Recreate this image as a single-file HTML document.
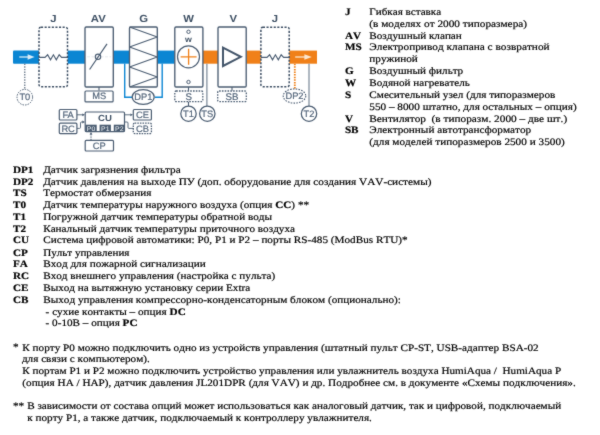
<!DOCTYPE html>
<html lang="ru"><head><meta charset="utf-8"><title>Схема</title>
<style>
html,body{margin:0;padding:0;background:#fff}
body{width:600px;height:435px;position:relative;overflow:hidden}
.t{position:absolute;left:0;font-family:"Liberation Serif",serif;font-size:9.9px;line-height:12px;white-space:pre;color:#000;transform-origin:0 50%;-webkit-text-stroke:0.19px #000;font-kerning:none;text-rendering:geometricPrecision}
#txt{position:absolute;left:0;top:0;width:600px;height:435px;filter:url(#soft)}
svg{position:absolute;left:0;top:0;filter:url(#soft)}
b.k{font-kerning:none}
svg text{font-family:"Liberation Sans",sans-serif;text-rendering:geometricPrecision}
</style></head><body>
<svg width="0" height="0" style="position:absolute;filter:none"><defs><filter id="soft" x="0" y="0" width="100%" height="100%" color-interpolation-filters="sRGB"><feConvolveMatrix order="3" kernelMatrix="0.02 0.07 0.02 0.07 0.64 0.07 0.02 0.07 0.02" edgeMode="duplicate" preserveAlpha="false"/></filter></defs></svg>
<svg width="330" height="160" viewBox="0 0 330 160">
<g fill="none" stroke="#4b5d72" stroke-width="1.2">
<!-- ducts -->
<g stroke="none">
<path d="M14,50.6 H39 V63.7 H14 Q13,63.7 13,62.7 V51.6 Q13,50.6 14,50.6Z" fill="#0b86d3"/>
<rect x="67.7" y="50.6" width="17.3" height="13.1" fill="#0b86d3"/>
<rect x="113" y="50.6" width="16.5" height="13.1" fill="#0b86d3"/>
<rect x="157" y="50.6" width="17.8" height="13.1" fill="#0b86d3"/>
<rect x="203" y="50.6" width="15" height="13.1" fill="#f08019"/>
<rect x="246.4" y="50.6" width="14.4" height="13.1" fill="#f08019"/>
<rect x="289.3" y="50.6" width="27.7" height="13.1" fill="#f08019"/>
</g>
<!-- arrows -->
<g stroke="#d9ecf7" stroke-width="1.3"><path d="M19.3,57 H29"/><path d="M27.6,54.2 L34.6,57 L27.6,59.8Z" fill="#d9ecf7" stroke="none"/></g>
<g stroke="#fbe6cf" stroke-width="1.3"><path d="M295.2,57 H305"/><path d="M304.4,54.2 L311.8,57 L304.4,59.8Z" fill="#fbe6cf" stroke="none"/></g>
<!-- blue DP1 lines -->
<path d="M124.7,63.5 V97.3 H132.4 M162.2,63.5 V97.3 H155" stroke="#0b86d3" stroke-width="1.4"/>
<!-- J left -->
<rect x="39" y="27.2" width="28.5" height="59.6" rx="2" stroke-dasharray="2.1 1.5" stroke-width="1.5" stroke="#3c4e63"/>
<path d="M39,57.3 H45 L47.6,54.8 L50.5,59.9 L53.4,54.8 L56.3,59.9 L59.2,54.8 L61.6,57.3 H67.5" stroke-width="1.15"/>
<!-- T0 -->
<path d="M24.8,63.7 V89" stroke-dasharray="1.4 1.2" stroke-width="1.1"/>
<circle cx="24.8" cy="97.2" r="7.8" stroke-dasharray="1.5 1.1" stroke-width="1"/>
<!-- AV -->
<rect x="85" y="27" width="28.3" height="60" rx="1.2" fill="#fff" stroke-width="1.35"/>
<path d="M87,56.8 H111" stroke="#dfe5ea" stroke-width="0.8" stroke-dasharray="3 1.5"/>
<circle cx="98" cy="56.8" r="2.7" stroke-width="1.1"/>
<path d="M89.6,69.5 L107,43.8" stroke-width="1.2"/>
<path d="M99,87 V90.6" stroke-width="1.1"/>
<rect x="85" y="91" width="28.1" height="10.9" rx="1" stroke-width="1.2"/>
<!-- G -->
<rect x="129.5" y="27" width="27.8" height="60" rx="1.2" fill="#fff" stroke-width="1.35"/>
<path d="M129.5,27 L157.3,37 L129.5,47 L157.3,57 L129.5,67 L157.3,77 L129.5,87" stroke-width="1.1" stroke-linejoin="bevel"/>
<ellipse cx="143.2" cy="97" rx="11" ry="7.3" stroke-width="1.25" fill="#fff"/>
<!-- W -->
<rect x="174.8" y="27" width="28.1" height="60" rx="1.2" fill="#fff" stroke-width="1.35"/>
<circle cx="188.5" cy="56.8" r="11" stroke-width="1.2"/>
<path d="M180.6,56.8 H196.6 M188.6,48.8 V64.8" stroke="#f08019" stroke-width="1.3"/>
<circle cx="188.5" cy="31.8" r="1.7" stroke-width="1"/>
<circle cx="188.5" cy="82" r="1.7" stroke-width="1"/>
<path d="M188.5,87 V90.7 M188.5,101.8 V106" stroke-width="1.1"/>
<rect x="174.8" y="91" width="28" height="10.7" rx="1.4" stroke-dasharray="1.6 1.2" stroke-width="1.3" stroke="#4d5f74"/>
<circle cx="188.5" cy="113.7" r="7.7" stroke-width="1.25"/>
<!-- TS -->
<path d="M206.9,63.7 V106" stroke-width="1.1" stroke="#6a7a8c"/>
<circle cx="207.3" cy="113.7" r="7.7" stroke-width="1.25"/>
<!-- V -->
<rect x="218" y="27" width="28.2" height="60" rx="1.2" fill="#fff" stroke-width="1.35"/>
<path d="M223,47.6 V66 L240.8,56.8Z" stroke-width="2" stroke="#44566b" stroke-linejoin="miter"/>
<path d="M232,87 V90.7" stroke-width="1.1"/>
<rect x="217.7" y="91" width="28.6" height="10.7" rx="1.4" stroke-dasharray="1.6 1.2" stroke-width="1.3" stroke="#4d5f74"/>
<!-- J right -->
<rect x="260.9" y="27.2" width="28.3" height="59.6" rx="2" stroke-dasharray="2.1 1.5" stroke-width="1.5" stroke="#3c4e63"/>
<path d="M261,57.3 H267 L269.6,54.8 L272.5,59.9 L275.4,54.8 L278.3,59.9 L281.2,54.8 L283.6,57.3 H289.3" stroke-width="1.15"/>
<!-- DP2 / T2 -->
<path d="M294.8,63.7 V89" stroke="#f08019" stroke-width="1.8" stroke-dasharray="1.5 1.1"/>
<ellipse cx="294.5" cy="96" rx="11.3" ry="7.1" stroke-dasharray="1.6 1.2" stroke-width="1.1"/>
<path d="M309,63.7 V106" stroke-width="1.1" stroke="#6a7a8c"/>
<circle cx="309" cy="113.7" r="7.7" stroke-width="1.25"/>
<!-- CU block -->
<rect x="85.2" y="112" width="39.3" height="19.6" rx="1" stroke-width="1.2"/>
<g stroke="none" fill="#4a5c71">
<rect x="85.4" y="124.7" width="11.3" height="6.9"/>
<rect x="99.6" y="124.7" width="11.3" height="6.9"/>
<rect x="113.8" y="124.7" width="10.9" height="6.9"/>
</g>
<rect x="59.3" y="109.5" width="17.6" height="10.5" rx="1" stroke-width="1.2"/>
<rect x="59.3" y="123.2" width="17.6" height="10.4" rx="1" stroke-width="1.2"/>
<rect x="133.3" y="109.5" width="18.1" height="10.5" rx="1" stroke-width="1.2"/>
<rect x="133.3" y="123.1" width="18.1" height="10.5" rx="1.4" stroke-dasharray="1.55 1.05" stroke-width="1.3" stroke="#4d5f74"/>
<rect x="85.2" y="140.4" width="28.3" height="10.6" rx="1" stroke-width="1.2"/>
<!-- connectors -->
<path d="M77,114.8 H83" stroke-width="0.9"/><path d="M82.3,113.4 L85,114.8 L82.3,116.2Z" fill="#4b5d72" stroke="none"/>
<path d="M77,128.4 H79.5 Q80.5,128.4 80.5,127.4 V123 Q80.5,122 81.5,122 H83" stroke-width="0.9"/><path d="M82.3,120.6 L85,122 L82.3,123.4Z" fill="#4b5d72" stroke="none"/>
<path d="M124.5,114.8 H130.5" stroke-width="0.9"/><path d="M130.3,113.4 L133,114.8 L130.3,116.2Z" fill="#4b5d72" stroke="none"/>
<path d="M124.5,122 H127 Q128,122 128,123 V127.4 Q128,128.4 129,128.4 H133" stroke-width="0.9"/>
<path d="M91,134 V140.4" stroke-width="1" stroke-dasharray="1.4 1"/><path d="M89.6,134.6 L91,132 L92.4,134.6Z" fill="#4b5d72" stroke="none"/>
</g>
<!-- labels -->
<g fill="#3f5165" font-weight="bold" font-size="10.3px" text-anchor="middle">
<text transform="translate(53.3,22.4) scale(1.1,1)">J</text>
<text transform="translate(98.3,22.4) scale(1.1,1)">AV</text>
<text transform="translate(143.6,22.4) scale(1.1,1)">G</text>
<text transform="translate(188.7,22.4) scale(1.1,1)">W</text>
<text transform="translate(233.3,22.4) scale(1.1,1)">V</text>
<text transform="translate(275,22.4) scale(1.1,1)">J</text>
<text transform="translate(188.5,42.4) scale(1.1,1)" font-size="8px">w</text>
<text transform="translate(105,121.2) scale(1.09,1)" font-size="8.8px">CU</text>
</g>
<g fill="#54667b" stroke="#54667b" stroke-width="0.2" font-size="9.3px" text-anchor="middle">
<text transform="translate(24.8,100.1) scale(1,1)">T0</text>
<text transform="translate(99.3,99.3) scale(1,1)">MS</text>
<text transform="translate(143.4,100.3) scale(1,1)">DP1</text>
<text transform="translate(188.8,99.7) scale(1,1)" font-size="9.7px">S</text>
<text transform="translate(232,99.7) scale(1,1)" font-size="9.7px">SB</text>
<text transform="translate(188.5,116.8) scale(1,1)">T1</text>
<text transform="translate(207.3,116.8) scale(1,1)">TS</text>
<text transform="translate(294.5,99.1) scale(1,1)">DP2</text>
<text transform="translate(309,116.8) scale(1,1)">T2</text>
<text transform="translate(68.1,117.9) scale(1,1)" font-size="9.3px">FA</text>
<text transform="translate(68.1,131.5) scale(1,1)" font-size="9.3px">RC</text>
<text transform="translate(142.4,117.9) scale(1,1)" font-size="9.3px">CE</text>
<text transform="translate(142.4,131.5) scale(1,1)" font-size="9.3px">CB</text>
<text transform="translate(99.3,148.9) scale(1,1)">CP</text>
</g>
<g fill="#f1f4f7" font-size="6.6px" text-anchor="middle">
<text transform="translate(91.1,130.5) scale(1.05,1)">P0</text>
<text transform="translate(105.3,130.5) scale(1.05,1)">P1</text>
<text transform="translate(119.3,130.5) scale(1.05,1)">P2</text>
</g>
</svg>

<div id="txt">
<div class="t" style="top:7px;transform:translate(344.9px,0) scale(1.130,1)"><b class="k">J</b></div>
<div class="t" style="top:7px;transform:translate(369.3px,0) scale(1.127,1)">Гибкая вставка</div>
<div class="t" style="top:19px;transform:translate(369.3px,0) scale(1.142,1)">(в моделях от 2000 типоразмера)</div>
<div class="t" style="top:31px;transform:translate(344.9px,0) scale(1.130,1)"><b class="k">AV</b></div>
<div class="t" style="top:31px;transform:translate(369.3px,0) scale(1.132,1)">Воздушный клапан</div>
<div class="t" style="top:42px;transform:translate(344.9px,0) scale(1.130,1)"><b class="k">MS</b></div>
<div class="t" style="top:42px;transform:translate(369.3px,0) scale(1.145,1)">Электропривод клапана с возвратной</div>
<div class="t" style="top:54px;transform:translate(369.3px,0) scale(1.134,1)">пружиной</div>
<div class="t" style="top:66px;transform:translate(344.9px,0) scale(1.130,1)"><b class="k">G</b></div>
<div class="t" style="top:66px;transform:translate(369.3px,0) scale(1.131,1)">Воздушный фильтр</div>
<div class="t" style="top:78px;transform:translate(344.9px,0) scale(1.130,1)"><b class="k">W</b></div>
<div class="t" style="top:78px;transform:translate(369.3px,0) scale(1.127,1)">Водяной нагреватель</div>
<div class="t" style="top:90px;transform:translate(344.9px,0) scale(1.130,1)"><b class="k">S</b></div>
<div class="t" style="top:90px;transform:translate(369.3px,0) scale(1.136,1)">Смесительный узел (для типоразмеров</div>
<div class="t" style="top:102px;transform:translate(369.3px,0) scale(1.137,1)">550 – 8000 штатно, для остальных – опция)</div>
<div class="t" style="top:114px;transform:translate(344.9px,0) scale(1.130,1)"><b class="k">V</b></div>
<div class="t" style="top:114px;transform:translate(369.3px,0) scale(1.144,1)">Вентилятор  (в типоразм. 2000 – две шт.)</div>
<div class="t" style="top:125px;transform:translate(344.9px,0) scale(1.130,1)"><b class="k">SB</b></div>
<div class="t" style="top:125px;transform:translate(369.3px,0) scale(1.136,1)">Электронный автотрансформатор</div>
<div class="t" style="top:137px;transform:translate(369.3px,0) scale(1.139,1)">(для моделей типоразмеров 2500 и 3500)</div>
<div class="t" style="top:165px;transform:translate(13.0px,0) scale(1.130,1)"><b>DP1</b></div>
<div class="t" style="top:165px;transform:translate(43.2px,0) scale(1.139,1)">Датчик загрязнения фильтра</div>
<div class="t" style="top:177px;transform:translate(13.0px,0) scale(1.130,1)"><b>DP2</b></div>
<div class="t" style="top:177px;transform:translate(43.2px,0) scale(1.138,1)">Датчик давления на выходе ПУ (доп. оборудование для создания VAV-системы)</div>
<div class="t" style="top:188px;transform:translate(13.0px,0) scale(1.130,1)"><b>TS</b></div>
<div class="t" style="top:188px;transform:translate(43.2px,0) scale(1.135,1)">Термостат обмерзания</div>
<div class="t" style="top:200px;transform:translate(13.0px,0) scale(1.130,1)"><b>T0</b></div>
<div class="t" style="top:200px;transform:translate(43.2px,0) scale(1.134,1)">Датчик температуры наружного воздуха (опция <b>CC</b>) **</div>
<div class="t" style="top:212px;transform:translate(13.0px,0) scale(1.130,1)"><b>T1</b></div>
<div class="t" style="top:212px;transform:translate(43.2px,0) scale(1.132,1)">Погружной датчик температуры обратной воды</div>
<div class="t" style="top:224px;transform:translate(13.0px,0) scale(1.130,1)"><b>T2</b></div>
<div class="t" style="top:224px;transform:translate(43.2px,0) scale(1.132,1)">Канальный датчик температуры приточного воздуха</div>
<div class="t" style="top:235px;transform:translate(13.0px,0) scale(1.130,1)"><b>CU</b></div>
<div class="t" style="top:235px;transform:translate(43.2px,0) scale(1.134,1)">Система цифровой автоматики: P0, P1 и P2 – порты RS-485 (ModBus RTU)*</div>
<div class="t" style="top:248px;transform:translate(13.0px,0) scale(1.130,1)"><b>CP</b></div>
<div class="t" style="top:248px;transform:translate(43.2px,0) scale(1.121,1)">Пульт управления</div>
<div class="t" style="top:259px;transform:translate(13.0px,0) scale(1.130,1)"><b>FA</b></div>
<div class="t" style="top:259px;transform:translate(43.2px,0) scale(1.136,1)">Вход для пожарной сигнализации</div>
<div class="t" style="top:271px;transform:translate(13.0px,0) scale(1.130,1)"><b>RC</b></div>
<div class="t" style="top:271px;transform:translate(43.2px,0) scale(1.131,1)">Вход внешнего управления (настройка с пульта)</div>
<div class="t" style="top:283px;transform:translate(13.0px,0) scale(1.130,1)"><b>CE</b></div>
<div class="t" style="top:283px;transform:translate(43.2px,0) scale(1.131,1)">Выход на вытяжную установку серии Extra</div>
<div class="t" style="top:295px;transform:translate(13.0px,0) scale(1.130,1)"><b>CB</b></div>
<div class="t" style="top:295px;transform:translate(43.2px,0) scale(1.134,1)">Выход управления компрессорно-конденсаторным блоком (опционально):</div>
<div class="t" style="top:307px;transform:translate(45.6px,0) scale(1.134,1)"><b>-</b> сухие контакты – опция <b>DC</b></div>
<div class="t" style="top:318px;transform:translate(45.6px,0) scale(1.130,1)"><b>-</b> 0-10В – опция <b>PC</b></div>
<div class="t" style="top:342px;transform:translate(13.0px,0) scale(1.134,1)">*</div>
<div class="t" style="top:343px;transform:translate(22.3px,0) scale(1.134,1)">К порту P0 можно подключить одно из устройств управления (штатный пульт CP-ST, USB-адаптер BSA-02</div>
<div class="t" style="top:354px;transform:translate(21.9px,0) scale(1.134,1)">для связи с компьютером).</div>
<div class="t" style="top:366px;transform:translate(22.3px,0) scale(1.131,1)">К портам P1 и P2 можно подключить устройство управления или увлажнитель воздуха HumiAqua /  HumiAqua P</div>
<div class="t" style="top:378px;transform:translate(22.3px,0) scale(1.134,1)">(опция HA / HAP), датчик давления JL201DPR (для VAV) и др. Подробнее см. в документе «Схемы подключения».</div>
<div class="t" style="top:401px;transform:translate(13.0px,0) scale(1.134,1)">**</div>
<div class="t" style="top:401px;transform:translate(27.2px,0) scale(1.131,1)">В зависимости от состава опций может использоваться как аналоговый датчик, так и цифровой, подключаемый</div>
<div class="t" style="top:413px;transform:translate(27.2px,0) scale(1.134,1)">к порту P1, а также датчик, подключаемый к контроллеру увлажнителя.</div>
</div>
</body></html>
